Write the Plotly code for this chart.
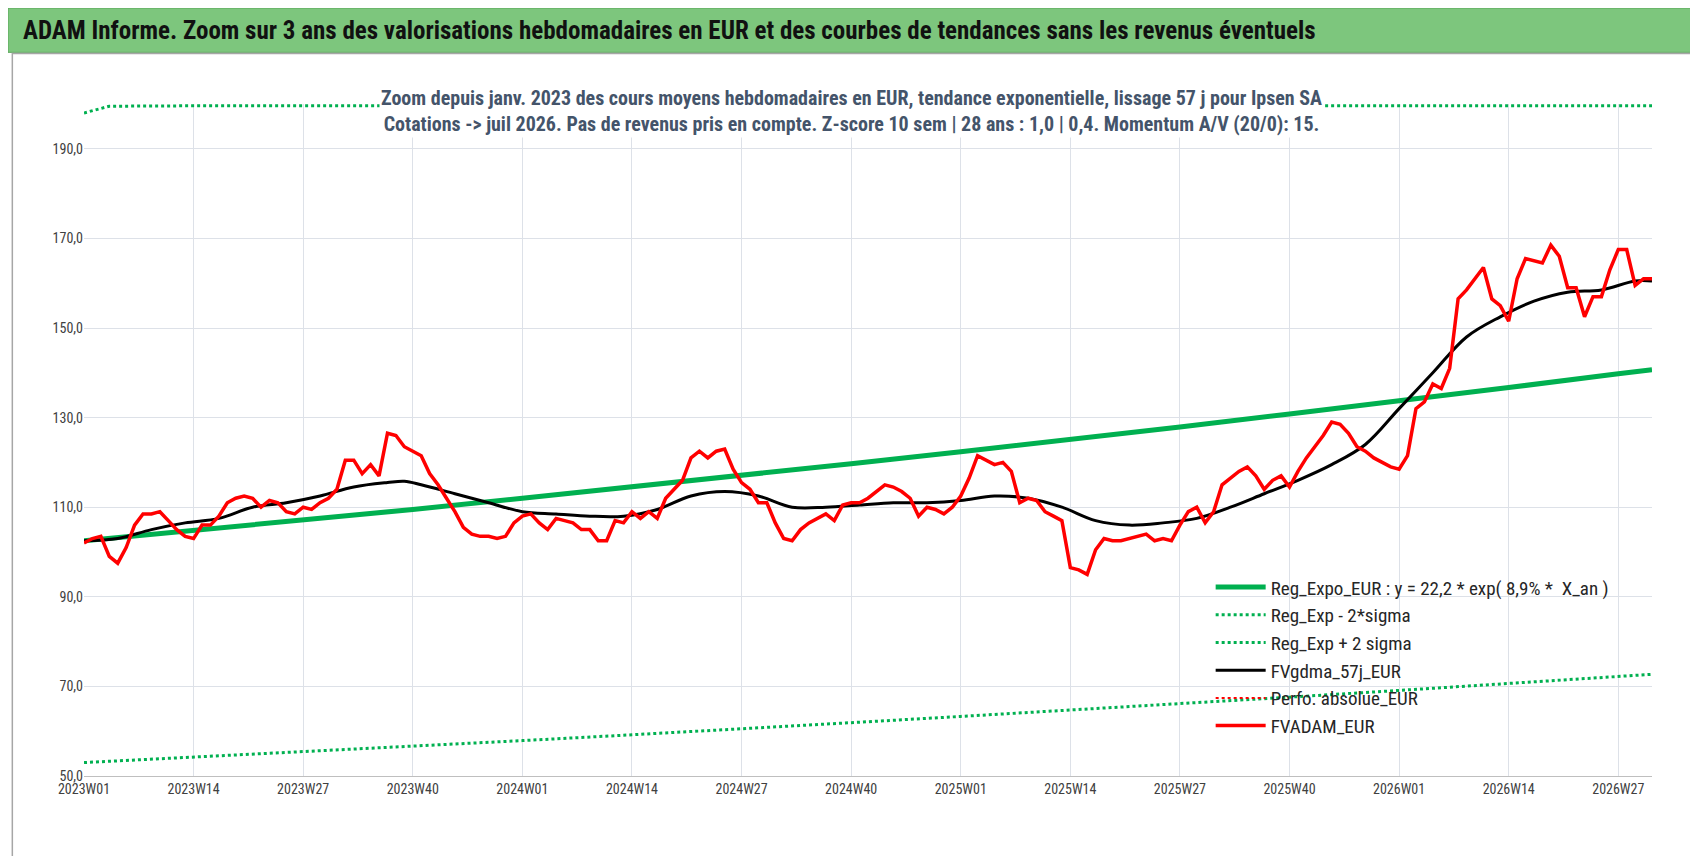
import plotly.graph_objects as go

def wk(i):
    y = 2023 + i // 52
    w = i % 52 + 1
    return f"{y}W{w:02d}"

red = [102,103,103.5,99,97.5,101,106,108.5,108.5,109,107,105,103.5,103,106,106,108,111,112,112.5,112,110,111.5,111,109,108.5,110,109.5,111,112,114,120.5,120.5,117.5,119.5,117,126.5,126,123.5,122.5,121.5,117.5,115,112,109,105.5,104,103.5,103.5,103,103.5,106.5,108,108.5,106.5,105,107.5,107,106.5,105,105,102.5,102.5,107,106.5,109,107.5,109,107.5,112,114,116,121,122.5,121,122.5,123,118.5,115.5,114,111,111,106.5,103,102.5,105,106.5,107.5,108.5,107,110.5,111,111,112,113.5,115,114.5,113.5,112,108,110,109.5,108.5,110,112.5,116.5,121.5,120.5,119.5,120,118,111,112,111.5,109,108,107,96.5,96,95,100.5,103,102.5,102.5,103,103.5,104,102.5,103,102.5,106,109,110,106.5,109,115,116.5,118,119,117,114,116,117,114.5,118,121,123.5,126,129,128.5,126.5,123.5,122.5,121,120,119,118.5,121.5,132,133.5,137.5,136.5,141,156.5,158.5,161,163.5,156.5,155,151.5,161,165.5,165,164.5,168.5,166,159,159,152.5,157,157,163,167.5,167.5,159.5,161,161]
black_idx = [0,4,8,12,16,20,24,28,32,36,38,40,44,48,52,56,60,64,68,72,76,80,84,88,92,96,100,104,108,112,116,120,124,128,132,136,140,144,148,152,156,160,164,168,172,176,180,184,186]
black_val = [102.5,103,105,106.5,107.5,110,111,112.5,114.5,115.5,115.8,115,113,111,109,108.5,108,108,109.5,112.5,113.5,112.5,110,110,110.5,111,111,111.5,112.5,112,110,107,106,106.5,107.5,110,113,116,119.5,124,132,140,148,152.5,156,158,158.5,160.5,160.5]
reg_idx = [0,13,26,39,52,65,78,91,104,117,130,143,156,169,182,186]
reg_val = [102.5,104.8,107.1,109.5,112.0,114.5,117.1,119.7,122.4,125.1,127.9,130.8,133.7,136.7,139.8,140.7]
low_val = [53.0,54.2,55.4,56.6,57.9,59.2,60.5,61.9,63.3,64.7,66.1,67.6,69.1,70.7,72.3,72.7]
up_idx = [0,3,13,186]
up_val = [198,199.5,199.6,199.6]
tick_idx = list(range(0,187,13))
tick_txt = [wk(i) for i in tick_idx]
ytick = [50,70,90,110,130,150,170,190]

n = len(red)
GREEN = "#00B050"
fig = go.Figure()
fig.add_trace(go.Scatter(x=reg_idx, y=reg_val, mode="lines", line=dict(color=GREEN, width=5),
                         name="Reg_Expo_EUR : y = 22,2 * exp( 8,9% *  X_an )"))
fig.add_trace(go.Scatter(x=reg_idx, y=low_val, mode="lines", line=dict(color=GREEN, width=3, dash="dot"),
                         name="Reg_Exp - 2*sigma"))
fig.add_trace(go.Scatter(x=up_idx, y=up_val, mode="lines", line=dict(color=GREEN, width=3, dash="dot"),
                         name="Reg_Exp + 2 sigma"))
fig.add_trace(go.Scatter(x=black_idx, y=black_val, mode="lines", line=dict(color="black", width=3, shape="spline"),
                         name="FVgdma_57j_EUR"))
fig.add_trace(go.Scatter(x=[None], y=[None], mode="lines", line=dict(color="red", width=2, dash="dot"),
                         name="Perfo. absolue_EUR"))
fig.add_trace(go.Scatter(x=list(range(n)), y=red, mode="lines", line=dict(color="red", width=3.5),
                         name="FVADAM_EUR"))

S = 1698 / 1570.0
T, B, L, R = round(89 * S), 856 - round(710 * S), round(70 * S), 1698 - round(1520 * S)
H = 856 - T - B
W = 1698 - L - R
def py(p):
    return (856 - B - p * S) / H
def px(p):
    return (p * S - L) / W

fnt = "Liberation Sans Narrow, Arial Narrow, Roboto Condensed, sans-serif"
fig.update_layout(
    width=1698, height=856, margin=dict(l=L, r=R, t=T, b=B),
    paper_bgcolor="white", plot_bgcolor="white",
    font=dict(family=fnt, color="#404040"),
    xaxis=dict(range=[0, n - 1], tickvals=tick_idx, ticktext=tick_txt, showgrid=True,
               gridcolor="#DDE1E8", tickfont=dict(size=14, color="#404040"), zeroline=False,
               showline=True, linecolor="#BFBFBF", ticks=""),
    yaxis=dict(range=[50, 200], tickvals=ytick, ticktext=[f"{v},0" for v in ytick], showgrid=True,
               gridcolor="#DDE1E8", tickfont=dict(size=14, color="#404040"), zeroline=False),
    legend=dict(x=px(1112), y=py(518), xanchor="left", yanchor="top", bgcolor="rgba(255,255,255,0)",
                font=dict(size=19, color="#262626", family=fnt), tracegroupgap=0, itemwidth=50),
    showlegend=True,
    shapes=[
        dict(type="rect", xref="paper", yref="paper", x0=px(0), x1=px(1566), y0=py(41), y1=py(0),
             fillcolor="#7DC67D", line=dict(color="#5aa55a", width=1), layer="below"),
        dict(type="rect", xref="paper", yref="paper", x0=px(4), x1=px(1564), y0=py(785), y1=py(42),
             fillcolor="rgba(0,0,0,0)", line=dict(color="#A6A6A6", width=1.5)),
    ],
    annotations=[
        dict(xref="paper", yref="paper", x=px(12), y=py(21), xanchor="left", yanchor="middle",
             text="<b>ADAM Informe. Zoom sur 3 ans des valorisations hebdomadaires en EUR et des courbes de tendances sans les revenus éventuels</b>",
             showarrow=False, font=dict(size=25, color="#111111", family=fnt)),
        dict(xref="paper", yref="paper", x=px(780), y=py(95), xanchor="center", yanchor="middle",
             text="<b>Zoom depuis janv. 2023 des cours moyens hebdomadaires en EUR, tendance exponentielle, lissage 57 j pour Ipsen SA<br>Cotations -> juil 2026. Pas de revenus pris en compte. Z-score 10 sem | 28 ans : 1,0 | 0,4. Momentum A/V (20/0): 15.</b>",
             showarrow=False, bgcolor="white", font=dict(size=20, color="#44546A", family=fnt)),
    ],
)
fig.write_html("out.html")
